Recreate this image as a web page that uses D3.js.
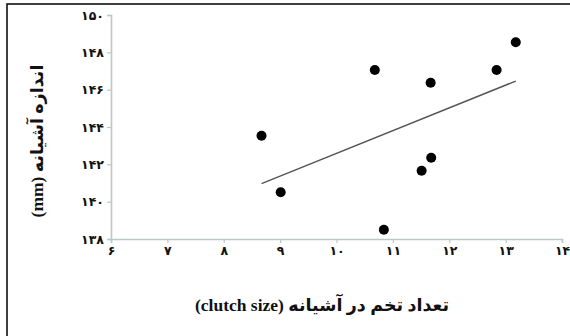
<!DOCTYPE html>
<html><head><meta charset="utf-8">
<script src="https://cdn.jsdelivr.net/npm/d3@7"></script>
<style>
html,body{margin:0;padding:0;background:#fff;}
svg{display:block;}
</style></head>
<body>
<svg id="chart" width="570" height="336"></svg>
<script>
const clutchSize = [8.67, 9.01, 10.68, 10.84, 11.51, 11.68, 11.67, 12.84, 13.18];
const nestSize   = [143.53, 140.5, 147.05, 138.5, 141.66, 142.35, 146.37, 147.05, 148.54];
const xTicks = [6, 7, 8, 9, 10, 11, 12, 13, 14];
const yTicks = [138, 140, 142, 144, 146, 148, 150];
const xTitle = "تعداد تخم در آشیانه (clutch size)";
const yTitle = "اندازه آشیانه (mm)";

const toFa = n => String(n).replace(/\d/g, d => "۰۱۲۳۴۵۶۷۸۹"[d]);

const svg = d3.select("#chart");
const axisColor = "#b9c9c7";

// frame
svg.append("rect").attr("x", 7).attr("y", 4).attr("width", 600).attr("height", 400)
  .attr("fill", "none").attr("stroke", "#000").attr("stroke-width", 1.5);

const x = d3.scaleLinear().domain([6, 14]).range([111, 562]);
const y = d3.scaleLinear().domain([138, 150]).range([239, 15]);

// x axis
const gx = svg.append("g").attr("transform", `translate(0,${y(138)})`)
  .call(d3.axisBottom(x).tickValues(xTicks).tickSize(4).tickPadding(3).tickFormat(toFa));
// y axis
const gy = svg.append("g").attr("transform", `translate(${x(6)},0)`)
  .call(d3.axisLeft(y).tickValues(yTicks).tickSize(4).tickPadding(3).tickFormat(toFa));

[gx, gy].forEach(g => {
  g.select(".domain").attr("stroke", axisColor).attr("stroke-width", 1.6);
  g.selectAll(".tick line").attr("stroke", axisColor).attr("stroke-width", 1.2);
  g.selectAll(".tick text").attr("fill", "#111").attr("font-family", "DejaVu Sans")
    .attr("font-weight", "bold").attr("font-size", 12.5);
});

// regression line
const n = clutchSize.length;
const mx = d3.mean(clutchSize), my = d3.mean(nestSize);
let sxy = 0, sxx = 0;
for (let i = 0; i < n; i++) { sxy += (clutchSize[i]-mx)*(nestSize[i]-my); sxx += (clutchSize[i]-mx)**2; }
const slope = sxy / sxx, icpt = my - slope*mx;
const [x0, x1] = d3.extent(clutchSize);
svg.append("line")
  .attr("x1", x(x0)).attr("y1", y(icpt + slope*x0))
  .attr("x2", x(x1)).attr("y2", y(icpt + slope*x1))
  .attr("stroke", "#555").attr("stroke-width", 1.4);

// points
svg.selectAll("circle.pt").data(clutchSize).enter().append("circle")
  .attr("class", "pt")
  .attr("cx", d => x(d)).attr("cy", (d, i) => y(nestSize[i]))
  .attr("r", 5).attr("fill", "#000");

// titles
svg.append("text").attr("x", 322).attr("y", 311).attr("text-anchor", "middle")
  .attr("font-family", "Liberation Serif, DejaVu Sans").attr("font-weight", "bold")
  .attr("font-size", 17.5).attr("fill", "#111").attr("direction", "rtl")
  .text(xTitle);

svg.append("text").attr("transform", "translate(43,141) rotate(-90)")
  .attr("text-anchor", "middle").attr("font-family", "Liberation Serif, DejaVu Sans")
  .attr("font-weight", "bold").attr("font-size", 17.5).attr("fill", "#111")
  .attr("direction", "rtl").text(yTitle);
</script>
</body></html>
